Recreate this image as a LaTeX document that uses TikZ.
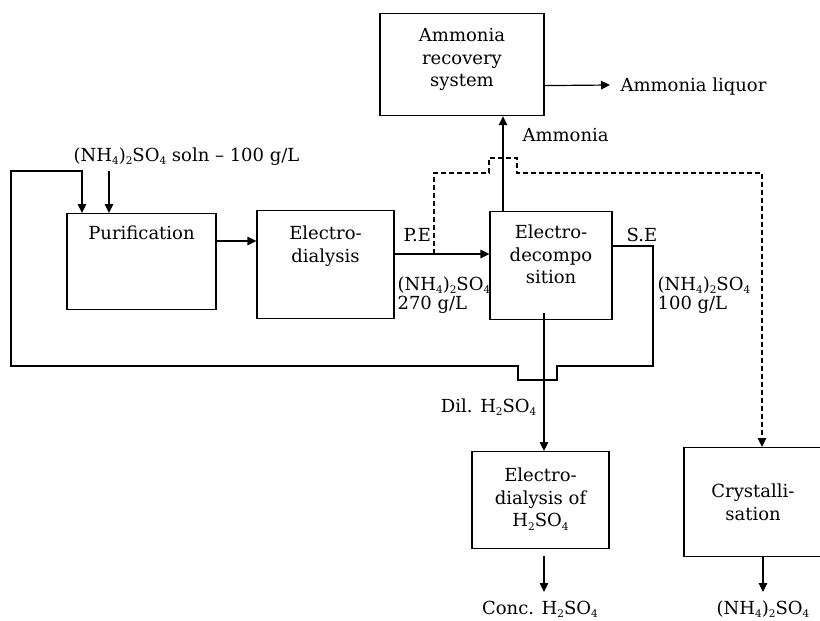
\documentclass[tikz,border=0pt]{standalone}
\usepackage{fontspec}
\setmainfont{DejaVu Serif}
\usetikzlibrary{arrows.meta,calc}
\newcommand\lsub[1]{\raisebox{-0.22em}{\fontsize{10.5}{10.5}\selectfont #1}}
\newcommand\amsul{(NH\lsub{4})\lsub{2}SO\lsub{4}}
\newcommand\hsul{H\lsub{2}SO\lsub{4}}
\newcommand\btxt[2]{\parbox[t]{#1pt}{\centering\fontsize{18}{22.5}\selectfont #2\par}}
\begin{document}
\begin{tikzpicture}[x=1pt,y=-1pt, line width=1.2pt,
  box/.style={draw, inner sep=0pt, anchor=north},
  lbl/.style={inner sep=0pt, font=\fontsize{18}{22.5}\selectfont},
  arr/.style={-{Triangle[length=9pt,width=8.5pt]}},
  dsh/.style={dash pattern=on 5pt off 3pt}]
\useasboundingbox (0,0) rectangle (820,621);
% boxes
\node[box, minimum width=164pt, text height=28pt, text depth=74pt] (amr) at (462,13) {\btxt{156}{Ammonia\\recovery\\system}};
\node[box, minimum width=149pt, text height=26pt, text depth=70pt] (pur) at (141.5,213) {\btxt{140}{Purification}};
\node[box, minimum width=137pt, text height=29pt, text depth=79pt] (ed) at (325.5,210) {\btxt{128}{Electro-\\dialysis}};
\node[box, minimum width=122pt, text height=27pt, text depth=81pt] (dec) at (551,211) {\btxt{116}{Electro-\\decompo\\sition}};
\node[box, minimum width=137pt, text height=30pt, text depth=67pt] (edh) at (540.5,451) {\btxt{130}{Electro-\\dialysis of\\\hsul}};
\node[box, minimum width=138pt, text height=50pt, text depth=59pt] (crys) at (753,447) {\btxt{130}{Crystalli-\\sation}};
% labels
\node[lbl, anchor=base west] (feedlbl) at (73,161) {\amsul{} soln \textendash{} 100 g/L};
\node[lbl, anchor=base west] (pe) at (403,241) {P.E};
\node[lbl, anchor=base west] (se) at (626,241) {S.E};
\node[lbl, anchor=base west] (c270) at (397,290) {\parbox[t]{90pt}{\raggedright\fontsize{18}{19.5}\selectfont\amsul\\270 g/L\par}};
\node[lbl, anchor=base west] (c100) at (657,290) {\parbox[t]{90pt}{\raggedright\fontsize{18}{19.5}\selectfont\amsul\\100 g/L\par}};
\node[lbl, anchor=base west] (amm) at (522,141) {Ammonia};
\node[lbl, anchor=base west] (liquor) at (620,91) {Ammonia liquor};
\node[lbl, anchor=base east] (dil) at (537,412) {Dil. \hsul};
\node[lbl, anchor=base] (conc) at (540,614) {Conc. \hsul};
\node[lbl, anchor=base] (prod) at (763,614) {\amsul};
% helper coordinates
\coordinate (xAm) at (503,0);
\coordinate (liq) at (610,85);
\coordinate (yA) at (0,241);
\coordinate (yB) at (0,254);
\coordinate (yS) at (0,246);
\coordinate (br) at (434,254);
\coordinate (xC) at (762,0);
\coordinate (x82) at (82,0);
\coordinate (x109) at (109,0);
\coordinate (feed) at (109,171);
\coordinate (x544) at (544,0);
\coordinate (x763) at (763,0);
\coordinate (decb) at ([yshift=7pt]dec.south);
\coordinate (edhb) at ([yshift=-7pt]edh.south);
\coordinate (concin) at (544,592);
\coordinate (prodin) at (763,592);
% connectors
\draw[arr] ([yshift=-21pt]amr.east) -- (liq);
\draw[arr] (dec.north -| xAm) -- (amr.south -| xAm);
\draw[arr] (pur.east |- yA) -- (ed.west |- yA);
\draw[arr] (ed.east |- yB) -- (dec.west |- yB);
\draw[dsh, arr] (br) -- (434,173) -- (489,173) -- (489,158) -- (517,158) -- (517,173) -- (762,173) -- (crys.north -| xC);
\draw[arr] (dec.east |- yS) -- (653,246) -- (653,366) -- (557,366) -- (557,380) -- (518,380) -- (518,366) -- (11,366) -- (11,171) -- (82,171) -- (pur.north -| x82);
\draw[arr] (feed) -- (pur.north -| x109);
\draw[arr] (decb -| x544) -- (edh.north -| x544);
\draw[arr] (edhb -| x544) -- (concin);
\draw[arr] (crys.south -| x763) -- (prodin);
\end{tikzpicture}
\end{document}
